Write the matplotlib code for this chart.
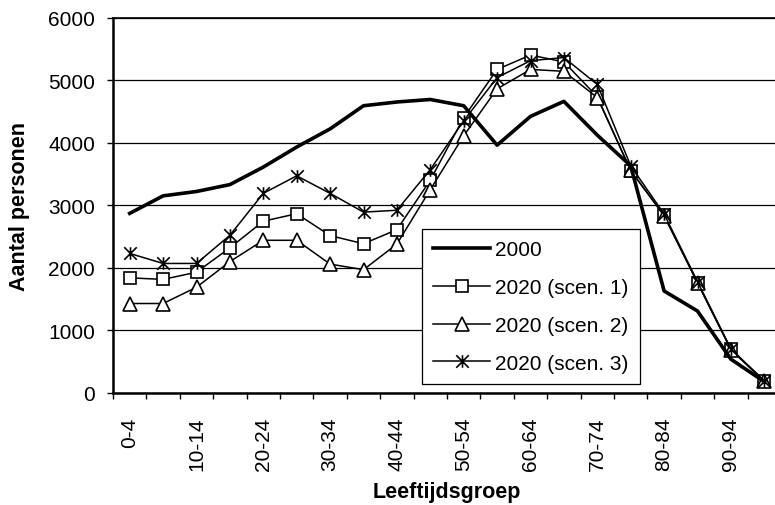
import matplotlib
matplotlib.use("Agg")
import matplotlib.pyplot as plt
from matplotlib.path import Path

plt.rcParams['font.family'] = ['Liberation Sans', 'DejaVu Sans']

# age groups (20 categories, every other one labelled)
groups = ["0-4", "5-9", "10-14", "15-19", "20-24", "25-29", "30-34", "35-39",
          "40-44", "45-49", "50-54", "55-59", "60-64", "65-69", "70-74",
          "75-79", "80-84", "85-89", "90-94", "95-99"]

y2000 = [2870, 3150, 3220, 3330, 3610, 3930, 4220, 4590, 4650, 4690,
         4590, 3960, 4420, 4660, 4120, 3630, 1630, 1310, 540, 180]
scen1 = [1840, 1815, 1930, 2320, 2745, 2865, 2515, 2385, 2610, 3400,
         4400, 5170, 5400, 5290, 4735, 3550, 2840, 1765, 700, 190]
scen2 = [1430, 1430, 1690, 2100, 2440, 2440, 2060, 1970, 2380, 3250,
         4110, 4860, 5170, 5140, 4720, 3560, 2830, 1760, 690, 185]
scen3 = [2230, 2070, 2070, 2520, 3190, 3470, 3190, 2890, 2920, 3570,
         4350, 5040, 5310, 5360, 4930, 3630, 2860, 1780, 705, 195]

# excel-like asterisk marker: X plus a vertical bar
star = Path([(0, -1), (0, 1), (-1, -1), (1, 1), (-1, 1), (1, -1)],
            [Path.MOVETO, Path.LINETO] * 3)

fig = plt.figure(figsize=(7.75, 5.06), dpi=100)
ax = fig.add_axes([113 / 775, 112 / 506, 668 / 775, 375.5 / 506])

x = list(range(len(groups)))
ax.plot(x, y2000, color='black', lw=2.6, label='2000', zorder=5)
ax.plot(x, scen1, color='black', lw=1.1, marker='s', ms=9, mfc='white',
        mec='black', mew=1.2, label='2020 (scen. 1)', zorder=4)
ax.plot(x, scen2, color='black', lw=1.1, marker='^', ms=10, mfc='white',
        mec='black', mew=1.2, label='2020 (scen. 2)', zorder=4)
ax.plot(x, scen3, color='black', lw=1.1, marker=star, ms=9, mfc='none',
        mec='black', mew=1.2, label='2020 (scen. 3)', zorder=4)

ax.set_xlim(-0.5, len(groups) - 0.5)
ax.set_ylim(0, 6000)
ax.set_yticks(range(0, 6001, 1000))
ax.yaxis.grid(True, color='black', lw=0.9)
ax.set_axisbelow(True)

# ticks on the category boundaries, labels on the centres
ax.set_xticks([i - 0.5 for i in range(len(groups) + 1)])
ax.set_xticklabels([])
ax.set_xticks(x[::2], minor=True)
ax.set_xticklabels(groups[::2], minor=True, rotation=90, fontsize=15)
ax.tick_params(axis='x', which='major', direction='out', length=4, width=1)
ax.tick_params(axis='x', which='minor', length=0, pad=17)
ax.tick_params(axis='y', direction='out', length=4, width=1, pad=9,
               labelsize=15)

for side in ['left', 'bottom']:
    ax.spines[side].set_linewidth(1.8)
ax.spines['top'].set_linewidth(1.2)
ax.spines['right'].set_visible(False)

ax.set_ylabel("Aantal personen", fontsize=15.5, fontweight='bold', labelpad=13)
ax.set_xlabel("Leeftijdsgroep", fontsize=15.5, fontweight='bold', labelpad=8)

leg = ax.legend(loc='upper left', bbox_to_anchor=(422 / 775, 1 - 230 / 506),
                bbox_transform=fig.transFigure, borderaxespad=0,
                fontsize=15, fancybox=False, framealpha=1, edgecolor='black',
                handlelength=2.7, handletextpad=0.25, labelspacing=0.9,
                borderpad=0.55)
leg.get_frame().set_linewidth(0.9)
leg.set_zorder(10)

fig.savefig("out.png", dpi=100)
